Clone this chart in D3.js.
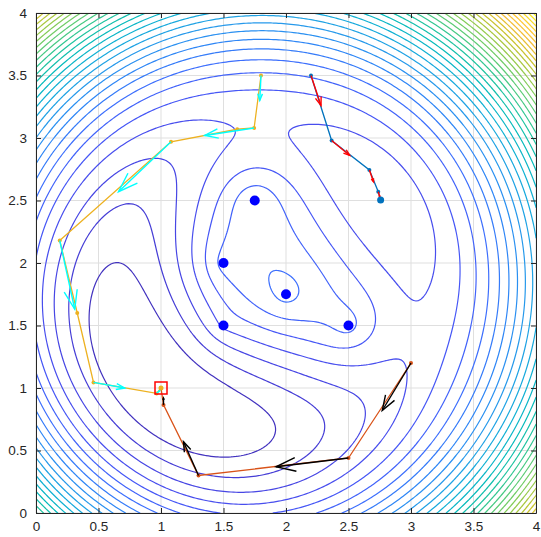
<!DOCTYPE html>
<html>
<head>
<meta charset="utf-8">
<script src="https://cdn.jsdelivr.net/npm/d3@7"></script>
<style>
  body { margin: 0; background: #fff; }
  text { font-family: "Liberation Sans", Arial, Helvetica, sans-serif; }
</style>
</head>
<body>
<div id="chart"></div>
<script>
// anchors (blue dots) and the true position (red square)
var anchors = [[1.75, 2.5], [1.5, 2], [2, 1.75], [1.5, 1.5], [2.5, 1.5]];
var truePos = [1, 1];
var levelStep = 0.5;
var gridStep = 0.02;
var tickValues = [0, 0.5, 1, 1.5, 2, 2.5, 3, 3.5, 4];

// iterate paths
var pathA = [[1.8, 3.5], [1.745, 3.08], [1.61, 3.07], [1.08, 2.97], [0.19, 2.18], [0.33, 1.6], [0.46, 1.045], [0.965, 0.957], [1, 1]];
var arrowsA = [[[1.8, 3.5], [1.79, 3.3]], [[1.745, 3.08], [1.35, 3.02]], [[1.08, 2.97], [0.66, 2.57]],
               [[0.19, 2.18], [0.31, 1.63]], [[0.46, 1.045], [0.71, 1.0]], [[0.965, 0.957], [0.99, 0.98]]];
var pathB = [[3, 1.2], [2.5, 0.44], [1.3, 0.3], [1.02, 0.865], [1, 1]];
var arrowsB = [[[3, 1.2], [2.77, 0.82]], [[2.5, 0.44], [1.92, 0.37]], [[1.3, 0.3], [1.18, 0.57]], [[1.02, 0.865], [1.02, 0.92]]];
var pathC = [[2.2, 3.5], [2.365, 2.98], [2.667, 2.744], [2.738, 2.57], [2.757, 2.504]];
var arrowsC = [[[2.2, 3.5], [2.28, 3.26]], [[2.365, 2.98], [2.51, 2.86]], [[2.667, 2.744], [2.70, 2.65]], [[2.738, 2.57], [2.75, 2.53]]];

// parula (newer variant), sampled
var parula = ["#3e26a8", "#4741dc", "#4852f4", "#3e6dfd", "#2d88f6", "#249de9", "#11afd7",
              "#06bbbb", "#23c59c", "#53cc7b", "#81cc5a", "#acc83d", "#d1c22c", "#f2bd39",
              "#fec735", "#f6dc2a", "#f9fb15"];

var margin = {top: 13, right: 5, bottom: 24, left: 36},
    width = 500,
    height = 500;

var svg = d3.select("#chart")
    .append("svg")
    .attr("width", 541)
    .attr("height", 537)
    .append("g")
    .attr("transform", "translate(" + margin.left + "," + margin.top + ")");

var x = d3.scaleLinear().domain([0, 4]).range([0, width]);
var y = d3.scaleLinear().domain([0, 4]).range([height, 0]);

// grid
svg.append("g").selectAll("line.gx")
    .data(tickValues).enter().append("line")
    .attr("x1", d => x(d)).attr("x2", d => x(d))
    .attr("y1", 0).attr("y2", height)
    .attr("stroke", "#dfdfdf").attr("stroke-width", 1);
svg.append("g").selectAll("line.gy")
    .data(tickValues).enter().append("line")
    .attr("y1", d => y(d)).attr("y2", d => y(d))
    .attr("x1", 0).attr("x2", width)
    .attr("stroke", "#dfdfdf").attr("stroke-width", 1);

svg.append("defs").append("clipPath")
    .attr("id", "clip")
    .append("rect")
    .attr("width", width)
    .attr("height", height);

// range misfit surface
var ranges = anchors.map(p => Math.hypot(truePos[0] - p[0], truePos[1] - p[1]));
function misfit(px, py) {
    var s = 0;
    anchors.forEach(function (p, i) {
        var r = Math.hypot(px - p[0], py - p[1]) - ranges[i];
        s += r * r;
    });
    return s;
}

var n = Math.round(4 / gridStep) + 1;
var values = new Array(n * n);
for (var j = 0; j < n; j++) {
    for (var i = 0; i < n; i++) {
        values[j * n + i] = misfit(i * gridStep, j * gridStep);
    }
}
var zmin = d3.min(values), zmax = d3.max(values);
var levels = d3.range(levelStep, zmax, levelStep);

var color = d3.scaleLinear()
    .domain(parula.map((c, i) => zmin + i * (zmax - zmin) / (parula.length - 1)))
    .range(parula);

var contours = d3.contours().size([n, n]).thresholds(levels)(values);

var project = d3.geoTransform({
    point: function (cx, cy) {
        this.stream.point(x((cx - 0.5) * gridStep), y((cy - 0.5) * gridStep));
    }
});

svg.append("g")
    .attr("clip-path", "url(#clip)")
    .selectAll("path")
    .data(contours)
    .enter().append("path")
    .attr("d", d3.geoPath(project))
    .attr("fill", "none")
    .attr("stroke", d => color(d.value))
    .attr("stroke-linejoin", "round")
    .attr("stroke-width", 1.2);

var plot = svg.append("g").attr("clip-path", "url(#clip)");

var line = d3.line()
    .x(d => x(d[0]))
    .y(d => y(d[1]));

function drawPath(pts, col) {
    plot.append("path")
        .datum(pts)
        .attr("d", line)
        .attr("fill", "none")
        .attr("stroke", col)
        .attr("stroke-width", 1.3);
    plot.append("g").selectAll("circle")
        .data(pts.slice(0, -1)).enter().append("circle")
        .attr("cx", d => x(d[0])).attr("cy", d => y(d[1]))
        .attr("r", 2).attr("fill", col);
}

function drawArrows(arr, col) {
    arr.forEach(function (a) {
        var x0 = x(a[0][0]), y0 = y(a[0][1]), x1 = x(a[1][0]), y1 = y(a[1][1]);
        var dx = x1 - x0, dy = y1 - y0, L = Math.hypot(dx, dy);
        var ux = dx / L, uy = dy / L, h = 0.27 * L, w = h * 0.35;
        var bx = x1 - ux * h, by = y1 - uy * h;
        var g = plot.append("g").attr("stroke", col).attr("stroke-width", 1.4).attr("fill", "none");
        g.append("line").attr("x1", x0).attr("y1", y0).attr("x2", x1).attr("y2", y1);
        g.append("path").attr("d", "M" + (bx - uy * w) + "," + (by + ux * w) +
            "L" + x1 + "," + y1 + "L" + (bx + uy * w) + "," + (by - ux * w));
    });
}

drawPath(pathA, "#edb120");
drawArrows(arrowsA, "#00ffff");
drawPath(pathB, "#d95319");
drawArrows(arrowsB, "#000000");
drawPath(pathC, "#0072bd");
drawArrows(arrowsC, "#ff0000");

var last = pathC[pathC.length - 1];
plot.append("circle")
    .attr("cx", x(last[0])).attr("cy", y(last[1]))
    .attr("r", 3.5).attr("fill", "#0072bd");

plot.append("circle")
    .attr("cx", x(truePos[0])).attr("cy", y(truePos[1]))
    .attr("r", 2.5).attr("fill", "#edb120");

// anchors
plot.append("g").selectAll("circle")
    .data(anchors).enter().append("circle")
    .attr("cx", d => x(d[0])).attr("cy", d => y(d[1]))
    .attr("r", 5).attr("fill", "#0000ff");

plot.append("rect")
    .attr("x", x(truePos[0]) - 6).attr("y", y(truePos[1]) - 6)
    .attr("width", 12).attr("height", 12)
    .attr("fill", "none").attr("stroke", "#ff0000").attr("stroke-width", 1.5);

// axes
var axisColor = "#262626";
function styleAxis(g) {
    g.select(".domain").attr("stroke", axisColor);
    g.selectAll(".tick line").attr("stroke", axisColor);
    g.selectAll(".tick text").attr("fill", axisColor).style("font-size", "13.5px");
}
svg.append("g")
    .attr("transform", "translate(0," + height + ")")
    .call(d3.axisBottom(x).tickValues(tickValues).tickSize(-5).tickSizeOuter(0).tickPadding(8).tickFormat(d3.format("~g")))
    .call(styleAxis);
svg.append("g")
    .call(d3.axisLeft(y).tickValues(tickValues).tickSize(-5).tickSizeOuter(0).tickPadding(9).tickFormat(d3.format("~g")))
    .call(styleAxis);
svg.append("g")
    .call(d3.axisTop(x).tickValues(tickValues).tickSize(-5).tickSizeOuter(0).tickFormat(""))
    .call(styleAxis);
svg.append("g")
    .attr("transform", "translate(" + width + ",0)")
    .call(d3.axisRight(y).tickValues(tickValues).tickSize(-5).tickSizeOuter(0).tickFormat(""))
    .call(styleAxis);
</script>
</body>
</html>
